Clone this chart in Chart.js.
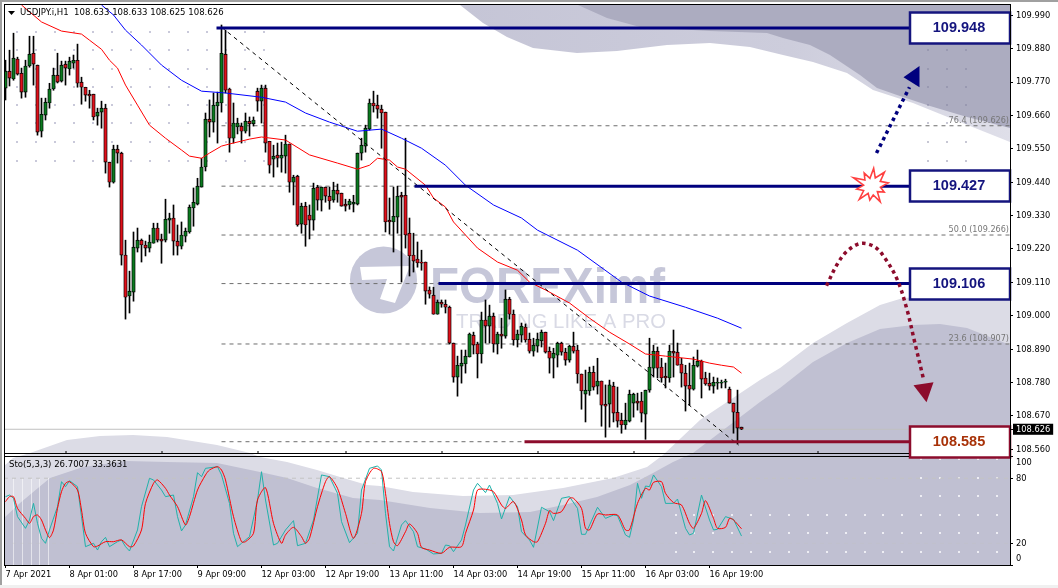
<!DOCTYPE html>
<html><head><meta charset="utf-8">
<style>html,body{margin:0;padding:0;background:#fff;overflow:hidden}canvas{display:block}</style>
<script src="https://cdn.jsdelivr.net/npm/chart.js@4/dist/chart.umd.js"></script>
</head><body><canvas id="c" width="1058" height="588"></canvas>
<script>
const opens=[109.750,109.806,109.780,109.846,109.799,109.737,109.823,109.865,109.826,109.608,
109.661,109.701,109.747,109.793,109.773,109.829,109.813,109.832,109.842,109.770,
109.753,109.730,109.730,109.658,109.671,109.684,109.506,109.440,109.549,109.536,
109.200,109.065,109.078,109.223,109.249,109.233,109.223,109.239,109.289,109.253,
109.249,109.315,109.322,109.246,109.229,109.262,109.276,109.355,109.368,109.424,
109.490,109.648,109.638,109.691,109.701,109.862,109.747,109.585,109.622,109.625,
109.608,109.641,109.632,109.740,109.707,109.750,109.575,109.516,109.529,109.519,
109.526,109.566,109.440,109.460,109.302,109.361,109.332,109.315,109.424,109.381,
109.424,109.394,109.381,109.414,109.404,109.368,109.365,109.368,109.368,109.536,
109.559,109.615,109.701,109.694,109.681,109.671,109.315,109.309,109.325,109.397,
109.397,109.272,109.200,109.187,109.177,109.177,109.085,109.068,109.005,109.045,
109.038,109.028,108.910,108.798,108.834,108.841,108.864,108.936,108.907,108.874,
108.986,108.966,108.999,108.907,108.940,108.933,109.055,109.005,108.920,108.936,
108.963,108.923,108.883,108.900,108.917,108.946,108.883,108.860,108.870,108.910,
108.880,108.854,108.900,108.887,108.808,108.742,108.752,108.814,108.768,108.785,
108.709,108.709,108.768,108.682,108.656,108.640,108.653,108.712,108.719,108.719,
108.676,108.755,108.827,108.883,108.831,108.801,108.795,108.883,108.880,108.841,
108.811,108.771,108.758,108.834,108.850,108.795,108.778,108.768,108.778,108.778,
108.781,108.758,108.712,108.682,108.633];
const highs=[109.842,109.875,109.931,109.852,109.816,109.842,109.921,109.921,109.826,109.717,
109.717,109.766,109.816,109.865,109.839,109.839,109.852,109.859,109.895,109.786,
109.753,109.743,109.730,109.684,109.707,109.697,109.506,109.562,109.562,109.539,
109.249,109.147,109.276,109.289,109.253,109.246,109.266,109.305,109.305,109.269,
109.384,109.338,109.365,109.299,109.309,109.289,109.365,109.421,109.453,109.519,
109.668,109.711,109.734,109.737,109.958,109.941,109.750,109.701,109.651,109.635,
109.668,109.655,109.655,109.750,109.760,109.760,109.575,109.562,109.569,109.572,
109.595,109.566,109.463,109.463,109.371,109.374,109.365,109.437,109.430,109.424,
109.424,109.424,109.440,109.434,109.404,109.384,109.384,109.397,109.536,109.585,
109.628,109.714,109.740,109.727,109.694,109.671,109.388,109.424,109.427,109.407,
109.585,109.322,109.272,109.243,109.216,109.177,109.095,109.094,109.052,109.052,
109.052,109.032,108.910,108.867,108.887,108.887,108.943,108.946,108.913,109.012,
109.052,109.035,109.009,108.946,108.992,109.085,109.061,109.019,108.953,108.976,
108.973,108.943,108.926,108.943,108.953,108.946,108.897,108.893,108.913,108.913,
108.893,108.903,108.946,108.903,108.808,108.821,108.831,108.834,108.860,108.785,
108.772,108.788,108.781,108.765,108.679,108.712,108.755,108.745,108.745,108.748,
108.755,108.926,108.903,108.897,108.860,108.844,108.903,108.953,108.910,108.860,
108.837,108.844,108.864,108.887,108.854,108.814,108.811,108.798,108.795,108.788,
108.791,108.765,108.712,108.755,108.633];
const lows=[109.711,109.757,109.776,109.793,109.717,109.720,109.819,109.760,109.595,109.589,
109.645,109.684,109.743,109.767,109.770,109.760,109.793,109.816,109.753,109.697,
109.707,109.684,109.645,109.628,109.618,109.470,109.424,109.437,109.503,109.167,
108.989,109.009,109.048,109.210,109.177,109.197,109.210,109.239,109.243,109.173,
109.243,109.272,109.200,109.200,109.220,109.243,109.272,109.295,109.365,109.424,
109.477,109.589,109.605,109.569,109.671,109.734,109.539,109.569,109.599,109.569,
109.602,109.592,109.625,109.674,109.635,109.539,109.470,109.457,109.490,109.473,
109.470,109.407,109.365,109.295,109.272,109.229,109.253,109.282,109.348,109.345,
109.374,109.351,109.374,109.374,109.361,109.345,109.351,109.342,109.365,109.513,
109.539,109.612,109.671,109.651,109.552,109.276,109.269,109.210,109.272,109.111,
109.223,109.131,109.144,109.160,109.150,109.038,109.058,109.005,109.005,109.028,
109.009,108.907,108.781,108.735,108.778,108.811,108.864,108.874,108.795,108.844,
108.910,108.910,108.880,108.874,108.893,108.926,108.989,108.903,108.897,108.913,
108.913,108.877,108.867,108.880,108.897,108.877,108.811,108.795,108.831,108.870,
108.837,108.847,108.877,108.778,108.692,108.650,108.738,108.755,108.742,108.636,
108.600,108.633,108.650,108.633,108.613,108.626,108.650,108.666,108.689,108.650,
108.593,108.748,108.798,108.795,108.781,108.762,108.781,108.798,108.837,108.765,
108.686,108.705,108.755,108.831,108.729,108.771,108.755,108.745,108.758,108.762,
108.762,108.712,108.613,108.577,108.625];
const closes=[109.806,109.783,109.849,109.796,109.737,109.823,109.862,109.829,109.605,109.664,
109.704,109.747,109.793,109.770,109.826,109.816,109.839,109.842,109.766,109.753,
109.727,109.724,109.655,109.671,109.684,109.506,109.440,109.549,109.536,109.200,
109.061,109.081,109.226,109.249,109.233,109.223,109.243,109.289,109.249,109.246,
109.318,109.322,109.246,109.229,109.266,109.279,109.358,109.374,109.427,109.490,
109.648,109.638,109.694,109.704,109.865,109.743,109.585,109.635,109.635,109.608,
109.641,109.632,109.645,109.707,109.750,109.569,109.496,109.526,109.519,109.529,
109.566,109.440,109.457,109.299,109.361,109.299,109.315,109.420,109.381,109.424,
109.394,109.378,109.414,109.401,109.361,109.361,109.378,109.374,109.536,109.562,
109.618,109.701,109.691,109.681,109.668,109.309,109.309,109.328,109.394,109.391,
109.266,109.197,109.180,109.174,109.173,109.081,109.071,109.005,109.045,109.038,
109.028,108.910,108.798,108.837,108.844,108.867,108.940,108.903,108.874,108.986,
108.966,108.999,108.907,108.940,108.933,109.055,109.005,108.920,108.940,108.966,
108.920,108.883,108.903,108.923,108.946,108.880,108.860,108.877,108.910,108.880,
108.854,108.900,108.883,108.808,108.752,108.755,108.814,108.765,108.785,108.705,
108.702,108.772,108.679,108.653,108.640,108.656,108.742,108.742,108.712,108.679,
108.755,108.831,108.883,108.827,108.795,108.795,108.883,108.877,108.837,108.811,
108.768,108.758,108.837,108.850,108.791,108.775,108.768,108.781,108.781,108.781,
108.785,108.712,108.682,108.630,108.626];

const maRedBars=[4,9,14,19,21,24,26,28,30,33,36,40,44,46,49,51,54,56,61,64,70,76,83,88,91,93,96,98,100,105,107,110,112,115,118,123,128,131,135,141,146,151,156,160,165,172,176,179,182,184];
const maRedVals=[110.024,109.968,109.938,109.928,109.908,109.878,109.842,109.816,109.760,109.694,109.628,109.585,109.546,109.526,109.519,109.536,109.559,109.566,109.582,109.589,109.579,109.530,109.503,109.483,109.496,109.519,109.513,109.490,109.483,109.430,109.388,109.358,109.309,109.266,109.223,109.177,109.150,109.111,109.085,109.042,108.992,108.946,108.907,108.874,108.867,108.857,108.844,108.837,108.831,108.811];
const maBlueBars=[24,27,30,34,39,44,49,55,64,70,75,81,88,94,99,104,110,115,122,129,133,143,154,161,170,178,184];
const maBlueVals=[110.024,109.991,109.941,109.892,109.826,109.776,109.740,109.734,109.720,109.704,109.668,109.638,109.608,109.615,109.585,109.552,109.496,109.430,109.365,109.322,109.282,109.216,109.111,109.065,109.028,108.992,108.959];

const stoKBars=[0,1,2,3,5,6,7,8,9,10,11,13,14,15,16,18,19,20,22,23,24,25,26,28,29,30,31,33,34,36,37,39,40,42,43,44,45,47,48,49,50,53,54,56,57,58,59,61,63,64,65,67,68,70,72,73,75,77,79,81,83,84,86,88,89,91,93,94,95,96,97,99,100,102,103,105,107,109,110,111,112,114,115,117,118,120,121,123,124,126,128,129,131,132,134,136,137,139,141,143,144,145,148,150,152,153,155,156,157,158,159,160,161,162,164,165,167,168,170,171,172,174,176,177,178,180,182,184];
const stoKVals=[63,64.5,61.5,44.6,33.8,41.5,56.8,38.4,24.6,20,32.3,53.8,76.8,72.2,77.7,72.2,44.6,16.9,20,13.8,21.5,25.5,16.9,21.5,23.1,16.9,12.9,32.3,53.8,79.9,78.4,69.1,63,64.5,44.6,31.4,36.9,63,85.1,81.4,89.1,90.6,83,56.8,29.2,16.9,20,26.1,59.9,86,59.9,18.4,20,32.3,40.9,17.8,20,41.5,83,81.4,66.1,40,20.6,29.2,69.1,89.1,91.3,87.6,47.6,16.9,12.9,36.9,40.9,30.7,16.9,14.8,10.2,10.8,18.4,17.8,12.3,23.1,36.9,69.1,75.3,66.7,73.7,56.8,42.4,63,53.8,30.7,23.1,16.3,53.2,49.2,40.9,61.5,63,52.2,28.3,28.3,53.2,43,46.1,45.5,27.7,25.5,41.5,75.3,61.5,72.8,72.2,83,72.2,56.8,56.8,60.8,33.8,27.7,29.2,64.5,41.5,32.3,32.9,44.6,42.1,26.7];
const stoDBars=[0,1,2,3,5,6,7,8,9,10,11,12,13,14,15,16,18,19,20,22,23,25,27,29,31,32,34,35,37,38,40,41,43,45,46,48,50,51,53,54,55,57,59,60,62,63,65,67,69,70,72,74,75,76,78,80,81,83,85,87,89,90,92,94,95,96,97,98,100,101,103,104,106,109,111,114,115,117,118,120,122,124,125,127,129,130,132,133,135,136,137,139,141,142,144,145,146,148,150,153,155,156,158,160,161,162,164,165,167,169,171,172,174,175,177,178,180,181,182,184];
const stoDVals=[58.4,63,63,52.2,43,38.4,44.6,46.1,41.5,32.3,25.2,32.3,52.2,67.6,75.3,76.8,69.1,50.7,29.2,16.9,17.5,21.5,21.5,23.1,16.9,17.5,32.3,56.8,75.3,78.4,70.7,64.5,53.8,36.9,44.6,69.1,83,87.6,90.6,87.6,78.4,44.6,21.5,21.5,29.2,59.9,71.3,38.4,20,27.7,34.7,26.1,20,24.6,53.8,76.8,81.4,70.7,47.6,24.6,47.6,76.8,89.1,86,66.1,38.4,21.5,17.8,30.7,37.8,29.2,16.3,13.8,10.8,16.3,16.9,29.2,50.7,69.1,69.8,67.6,55.3,52.2,58.4,41.5,27.7,21.5,21.5,38.4,50.1,47.6,49.2,61.5,61.5,52.2,33.8,32.3,47,46.1,46.1,32.3,32.3,56.8,70.7,69.1,76.2,76.8,66.1,57.5,55.3,38.4,33.8,47.6,59.3,43,33.8,34.7,43,41.5,33.4];

const priceTicks=[109.990,109.880,109.770,109.660,109.550,109.440,109.330,109.220,109.110,109.000,108.890,108.780,108.670,108.560];
const lastPrice=108.626;
const stoTicks=[0,20,80,100];
const timeLabels=['7 Apr 2021','8 Apr 01:00','8 Apr 17:00','9 Apr 09:00','12 Apr 03:00','12 Apr 19:00','13 Apr 11:00','14 Apr 03:00','14 Apr 19:00','15 Apr 11:00','16 Apr 03:00','16 Apr 19:00'];
const timeBars=[0,16,32,48,64,80,96,112,128,144,160,176];
const daySepBars=[15,39,63,85,109,133,157,181,203];

const fibLevels=[108.585,108.907,109.106,109.266,109.427,109.626,109.948];
const fibLabelled=[['76.4 (109.626)',109.626],['50.0 (109.266)',109.266],['23.6 (108.907)',108.907]];
const trendBars=[54,183.25], trendVals=[109.951,108.574];
const levelVals=[109.948,109.427,109.106,108.585];
const levelStart=[52.75,102.25,108.25,129.75];
const levelEndBar=226;

const arrowUpBars=[217.75,226], arrowUpVals=[109.536,109.753];
const arrowUpHeadBars=[224.5,228.5,228.5], arrowUpHeadVals=[109.786,109.823,109.753];
const arrowDownBars=[205.25,207.9,210.25,213.75,217.3,220,223,225.4,227.25,229.6];
const arrowDownVals=[109.099,109.169,109.211,109.238,109.227,109.187,109.117,109.019,108.916,108.786];
const arrowDownHeadBars=[227,232,230.25], arrowDownHeadVals=[108.771,108.781,108.715];
const burstBar=216.5, burstVal=109.427;

const FONT='"DejaVu Sans Condensed","DejaVu Sans",sans-serif';
const NAVY='#00007e', MAROON='#8c0c2c';
const pts=(xs,ys)=>xs.map((x,i)=>({x,y:ys[i]}));
const fullMaxBar=251.125, minBar=-0.375;
const barsIdx=opens.map((_,i)=>i);

function poly(ctx,p){ctx.beginPath();p.forEach((q,i)=>i?ctx.lineTo(q[0],q[1]):ctx.moveTo(q[0],q[1]));ctx.closePath();ctx.fill();}

const backdrop={id:'backdrop',beforeDatasetsDraw(ch){
  const c=ch.ctx;c.save();
  c.beginPath();c.rect(4,4,1006,561);c.clip();
  // decorative wave image behind the chart
  const g=c.createLinearGradient(460,0,1010,0);g.addColorStop(0,'#c5c5d6');g.addColorStop(.6,'#cdcddc');g.addColorStop(1,'#dfdfe9');
  c.fillStyle=g;
  poly(c,[[455,0],[460,5],[483,23],[507,37],[533,48],[577,53],[617,51],[667,45],[710,43],[750,47],[783,55],[813,62],[847,73],[873,90],[913,103],[960,122],[1010,142],[1010,0]]);
  c.fillStyle='#acacc0';
  poly(c,[[572,0],[578,5],[607,18],[640,27],[710,31],[767,33],[783,38],[810,45],[830,55],[860,75],[877,88],[897,95],[930,106],[967,117],[1010,128],[1010,0]]);
  c.fillStyle='#dcdce6';
  poly(c,[[4,466],[13,458],[30,453],[67,440],[100,436],[133,435],[167,437],[217,445],[250,453],[260,457],[287,462],[317,470],[340,477],[367,485],[380,486],[413,492],[463,496],[513,495],[563,488],[613,478],[647,467],[663,455],[700,420],[760,380],[780,368],[813,343],[847,323],[880,305],[903,298],[960,295],[1010,300],[1010,565],[4,565]]);
  c.fillStyle='#c0c0d2';
  poly(c,[[4,518],[20,503],[50,478],[83,467],[127,461],[167,462],[217,463],[260,472],[287,478],[317,488],[353,498],[380,500],[430,508],[480,513],[530,512],[563,505],[597,497],[630,485],[653,473],[673,462],[693,453],[760,402],[780,388],[813,362],[847,343],[880,329],[913,325],[940,324],[967,328],[1010,345],[1010,565],[4,565]]);
  // watermark
  c.fillStyle='#c6c7d9';
  c.beginPath();c.arc(383.5,280,33.5,0,Math.PI*2);c.fill();
  c.fillStyle='#fff';poly(c,[[360,267],[410,266],[395,303],[380,299],[387,279],[362,280]]);
  c.fillStyle='#c6c7d9';c.font='bold 50px "Liberation Sans",sans-serif';c.textBaseline='alphabetic';c.textAlign='left';
  c.fillText('FOREXimf',430,303,235);
  c.fillStyle='#d9dae5';c.font='21px "Liberation Sans",sans-serif';
  c.fillText('TRADING LIKE A PRO',456,328,210);
  // dot pattern
  c.fillStyle='#c9c9da';
  const rows=[32,50,69,87,105,123,142,161];
  for(let k=0;k<14;k++)rows.forEach(y=>c.fillRect(17+19*k-1,y-1,2,2));
  c.fillStyle='rgba(130,130,160,.45)';
  [928,947,966].forEach(x=>rows.slice(1).forEach(y=>c.fillRect(x-1,y-1,2,2)));
  c.fillStyle='#eeeef4';
  const subRows=[459,478,496,515,533,552];
  for(let k=0;k<18;k++){const x=Math.round(675.5+18.9*k);
    subRows.forEach((y,r)=>{if(x>=915||r>=3)c.fillRect(x-1,y-1,2,2);});}
  c.fillStyle='rgba(255,255,255,.55)';
  [13,22,31,39,48].forEach(x=>c.fillRect(x,478,1,87));
  c.restore();
}};

const overlays={id:'overlays',afterDatasetsDraw(ch){
  const c=ch.ctx,X=ch.scales.x,Y=ch.scales.y;c.save();
  const px=v=>X.getPixelForValue(v),py=v=>Y.getPixelForValue(v);
  // arrow heads
  c.fillStyle=NAVY;poly(c,arrowUpHeadBars.map((b,i)=>[px(b),py(arrowUpHeadVals[i])]));
  c.fillStyle=MAROON;poly(c,arrowDownHeadBars.map((b,i)=>[px(b),py(arrowDownHeadVals[i])]));
  // starburst
  const r=[18,9,19,10,17,9,14,8,18,9,14,8,18,9,15,8,20,9,15,8];
  const cx=px(burstBar),cy=py(burstVal);
  c.beginPath();r.forEach((q,i)=>{const a=i/r.length*Math.PI*2-Math.PI/2+.12;const x=cx+q*Math.cos(a),y=cy+q*Math.sin(a);i?c.lineTo(x,y):c.moveTo(x,y);});c.closePath();
  c.fillStyle='#fff';c.fill();c.strokeStyle='#ff4040';c.lineWidth=1.6;c.stroke();
  // fib labels
  c.font='9px '+FONT;c.fillStyle='#777';c.textAlign='right';c.textBaseline='alphabetic';
  fibLabelled.forEach(f=>c.fillText(f[0],1009,py(f[1])-3));
  // level boxes
  levelVals.forEach(v=>{
    const red=v===108.585,y=Math.round(py(v));
    c.fillStyle='#fff';c.fillRect(910,y-15.5,100,31);
    c.strokeStyle=red?MAROON:'#14147e';c.lineWidth=2.5;c.strokeRect(910,y-15.5,100,31);
    c.font='bold 14.5px "Liberation Sans",sans-serif';c.textAlign='center';c.textBaseline='middle';
    c.fillStyle=red?'#a83208':'#14147e';c.fillText(v.toFixed(3),959,y);
  });
  // frame
  c.fillStyle='#000';
  c.fillRect(4,4,1007,1);c.fillRect(4,4,1,562);c.fillRect(4,565,1007,1);c.fillRect(1010,4,1,562);
  c.fillRect(4,453,905,1);c.fillRect(4,456,905,1);
  daySepBars.forEach(b=>c.fillRect(Math.round(px(b))-.5,451,1,2));
  c.fillStyle='#a0a0a0';c.fillRect(0,0,1058,2);c.fillRect(0,0,2,588);
  c.fillStyle='#f0f0f0';c.fillRect(0,585,1058,3);
  // headers
  c.fillStyle='#000';c.beginPath();c.moveTo(8,11);c.lineTo(15,11);c.lineTo(11.5,15);c.closePath();c.fill();
  c.font='9.5px '+FONT;c.textAlign='left';c.textBaseline='middle';
  c.fillStyle='#000';c.fillText('USDJPY.i,H1  108.633 108.633 108.625 108.626',20,13);
  c.fillText('Sto(5,3,3) 26.7007 33.3631',9,465);
  c.restore();
}};

const line=(data,extra)=>Object.assign({type:'line',data,yAxisID:'y',pointRadius:0,borderWidth:1,fill:false,tension:0},extra);
const noPad=s=>{s.paddingTop=0;s.paddingBottom=0;s.paddingLeft=0;s.paddingRight=0;};

new Chart(document.getElementById('c'),{
  type:'bar',
  data:{datasets:[
    ...fibLevels.map(v=>line(pts([54,fullMaxBar],[v,v]),{borderColor:'#6e6e6e',borderDash:[4,4],order:30})),
    line(pts([minBar,fullMaxBar],[lastPrice,lastPrice]),{borderColor:'#c0c0c0',order:29}),
    {type:'bar',data:barsIdx.map(i=>({x:i,y:[lows[i],highs[i]]})),yAxisID:'y',barThickness:1,backgroundColor:'#000',grouped:false,order:20},
    {type:'bar',data:barsIdx.map(i=>({x:i,y:[opens[i],closes[i]]})),yAxisID:'y',barThickness:3.5,grouped:false,order:19,borderSkipped:false,borderWidth:0.9,borderColor:'#000',
      backgroundColor:barsIdx.map(i=>closes[i]>opens[i]?'#0a7a1e':'#e0101a')},
    line(pts(maRedBars,maRedVals),{borderColor:'#ff0000',order:18}),
    line(pts(maBlueBars,maBlueVals),{borderColor:'#0000ff',order:17}),
    line(pts(trendBars,trendVals),{borderColor:'#000',borderDash:[4,4],order:16}),
    ...levelVals.map((v,i)=>line(pts([levelStart[i],levelEndBar],[v,v]),{borderColor:v===108.585?MAROON:NAVY,borderWidth:3,order:15})),
    line(pts(arrowUpBars,arrowUpVals),{borderColor:NAVY,borderWidth:3.5,borderDash:[3.5,3.7],order:14}),
    line(pts(arrowDownBars,arrowDownVals),{borderColor:MAROON,borderWidth:3.5,borderDash:[3.5,3.7],tension:.35,order:13}),
    line(pts(stoKBars,stoKVals),{yAxisID:'sto',borderColor:'#20b2aa',order:12}),
    line(pts(stoDBars,stoDVals),{yAxisID:'sto',borderColor:'#ff0000',order:11,tension:.25}),
    line(pts([minBar,fullMaxBar],[80,80]),{yAxisID:'sto',borderColor:'#c4c4c4',borderDash:[4,4],order:28}),
    line(pts([minBar,fullMaxBar],[20,20]),{yAxisID:'sto',borderColor:'rgba(196,196,196,.35)',borderDash:[4,4],order:28})
  ]},
  plugins:[backdrop,overlays],
  options:{
    responsive:false,animation:false,devicePixelRatio:1,
    layout:{padding:{top:4,left:4,right:0,bottom:0}},
    plugins:{legend:{display:false},tooltip:{enabled:false}},
    events:[],
    scales:{
      x:{type:'linear',position:'bottom',min:minBar,max:fullMaxBar,offset:false,
        grid:{offset:false,drawOnChartArea:false,drawTicks:true,tickLength:3,tickColor:'#000'},border:{display:false},
        afterBuildTicks(s){s.ticks=timeBars.map(v=>({value:v}));},
        afterFit(s){s.height=23;noPad(s);},
        ticks:{align:'start',autoSkip:false,maxRotation:0,minRotation:0,padding:1,color:'#000',font:{family:FONT,size:9.2},
          callback(v){return timeLabels[timeBars.indexOf(v)];}}},
      y:{type:'linear',position:'right',stack:'panes',stackWeight:451,min:108.5412,max:110.0272,
        grid:{drawOnChartArea:false,drawTicks:true,tickLength:3,tickColor:'#000'},border:{display:false},
        afterBuildTicks(s){s.ticks=priceTicks.concat(lastPrice).map(v=>({value:v}));},
        afterFit(s){s.width=48;noPad(s);},
        ticks:{autoSkip:false,padding:3,font:{family:FONT,size:9.2},
          color:c=>c.tick&&c.tick.value===lastPrice?'#fff':'#000',
          showLabelBackdrop:c=>!!(c.tick&&c.tick.value===lastPrice),
          backdropColor:'#000',backdropPadding:{x:3,y:0},
          callback(v){return v.toFixed(3);}}},
      sto:{type:'linear',position:'right',stack:'panes',stackWeight:110,min:0,max:101.4,
        grid:{drawOnChartArea:false,drawTicks:true,tickLength:3,tickColor:'#000'},border:{display:false},
        afterBuildTicks(s){s.ticks=stoTicks.map(v=>({value:v}));},
        afterFit(s){s.width=48;noPad(s);},
        ticks:{autoSkip:false,padding:3,color:'#000',font:{family:FONT,size:9.2,lineHeight:1.3},
          callback(v){return v===100?['','100']:v===0?['0','']:String(v);}}}
    }
  }
});
</script></body></html>
